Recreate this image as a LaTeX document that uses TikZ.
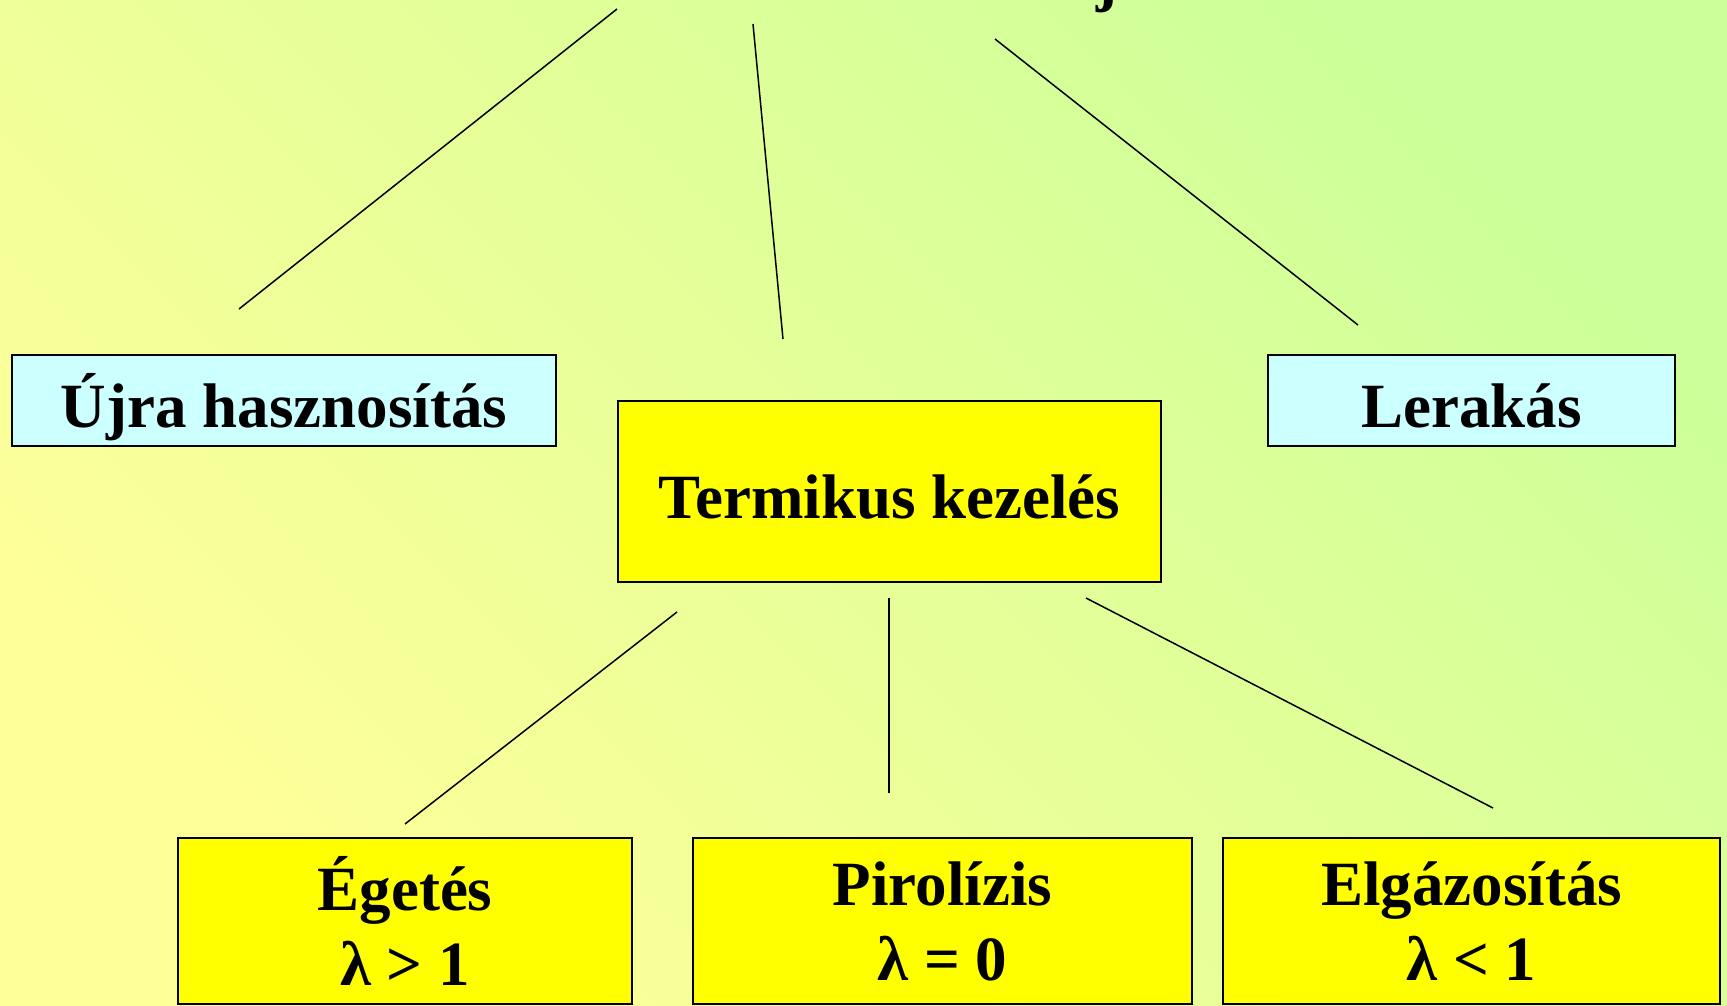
\documentclass[tikz,border=0pt]{standalone}
\usepackage{fontspec}
\setmainfont{Liberation Serif}
\definecolor{hatterzold}{HTML}{CCFF99}
\definecolor{hattersarga}{HTML}{FFFF99}
\definecolor{dobozkek}{HTML}{CCFFFF}
\definecolor{dobozsarga}{HTML}{FFFF00}
\begin{document}
\begin{tikzpicture}[x=1pt, y=-1pt,
    felirat/.style={font=\fontsize{63}{75}\selectfont\bfseries},
    kekdoboz/.style={felirat, draw, line width=2pt, fill=dobozkek, inner sep=0pt, text height=53pt, text depth=0pt},
    sargadoboz/.style={felirat, draw, line width=2pt, fill=dobozsarga, inner sep=0pt, align=center},
    vonal/.style={line width=1.5pt}]
    \useasboundingbox (0,0) rectangle (1727,1005);
    \clip (0,0) rectangle (1727,1005);
    \shade[bottom color=hattersarga, top color=hatterzold, shading angle=-45] (0,0) rectangle (1727,1005);
    % cim, csak az also resze latszik
    \node (cim) at (845,-1) [felirat, anchor=base] {Hulladékkezelés módjai};
    % dobozok
    \node (ujra) at (284,400.5) [kekdoboz, minimum width=544pt, minimum height=91pt] {Újra hasznosítás};
    \node (termikus) at (889.5,491.5) [sargadoboz, text height=53pt, text depth=0pt, minimum width=543pt, minimum height=181pt] {Termikus kezelés};
    \node (lerakas) at (1471.5,400.5) [kekdoboz, minimum width=407pt, minimum height=91pt] {Lerakás};
    \node (egetes) at (405,921) [sargadoboz, minimum width=454pt, minimum height=166pt] {Égetés\\λ > 1};
    \node (pirolizis) at (942.5,921) [sargadoboz, minimum width=499pt, minimum height=166pt] {Pirolízis\\λ = 0};
    \node (elgazositas) at (1471.5,921) [sargadoboz, minimum width=497pt, minimum height=166pt] {Elgázosítás\\λ < 1};
    % vonalak vegpontjai
    \coordinate (cim-bal) at (617,9);
    \coordinate (cim-kozep) at (753,24);
    \coordinate (cim-jobb) at (995,39);
    \coordinate (ujra-fent) at (239,309);
    \coordinate (termikus-fent) at (783,339);
    \coordinate (lerakas-fent) at (1358,325);
    \coordinate (termikus-bal) at (677,612);
    \coordinate (termikus-kozep) at (889,598);
    \coordinate (termikus-jobb) at (1086,598);
    \coordinate (egetes-fent) at (405,824);
    \coordinate (pirolizis-fent) at (889,793);
    \coordinate (elgazositas-fent) at (1493,808);
    \draw[vonal] (cim-bal) -- (ujra-fent);
    \draw[vonal] (cim-kozep) -- (termikus-fent);
    \draw[vonal] (cim-jobb) -- (lerakas-fent);
    \draw[vonal] (termikus-bal) -- (egetes-fent);
    \draw[vonal] (termikus-kozep) -- (pirolizis-fent);
    \draw[vonal] (termikus-jobb) -- (elgazositas-fent);
\end{tikzpicture}
\end{document}
